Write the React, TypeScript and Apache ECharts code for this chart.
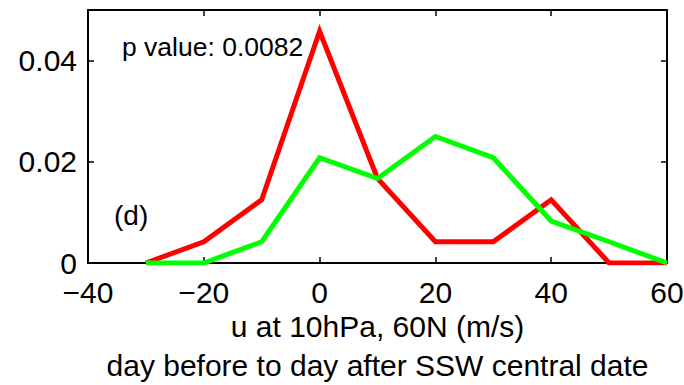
import React, { useEffect, useRef } from "react";
import * as echarts from "echarts";

const xValues = [-30, -20, -10, 0, 10, 20, 30, 40, 50, 60];
const redValues = [0, 0.0042, 0.0125, 0.0458, 0.0167, 0.0042, 0.0042, 0.0125, 0, 0];
const greenValues = [0, 0, 0.0042, 0.0208, 0.0167, 0.025, 0.0208, 0.0083, 0.0042, 0];
const xTitle = "u at 10hPa, 60N (m/s)\nday before to day after SSW central date";
const pValueText = "p value: 0.0082";
const panelLabel = "(d)";

const FONT = '"Liberation Sans", Arial, sans-serif';

export default function App() {
  const ref = useRef<HTMLDivElement>(null);
  useEffect(() => {
    if (!ref.current) return;
    const chart = echarts.init(ref.current, undefined, { renderer: "svg" });
    const pair = (ys: number[]) => xValues.map((x, i) => [x, ys[i]]);
    const axisLine = { show: true, onZero: false, lineStyle: { color: "#000", width: 2 } };
    const tick = { show: true, inside: true, length: 6, lineStyle: { color: "#000", width: 1.5 } };
    const fmtX = (v: number) => (v < 0 ? "\u2212" + Math.abs(v) : String(v));
    const fmtY = (v: number) => {
      const r = Math.round(v * 1000) / 1000;
      if (Math.abs(r - 0.05) < 1e-9) return "";
      return String(r);
    };
    chart.setOption({
      animation: false,
      backgroundColor: "#fff",
      grid: { left: 88, right: 17, top: 10, bottom: 122, containLabel: false, outerBoundsMode: "none" },
      xAxis: [
        {
          type: "value",
          min: -40,
          max: 60,
          interval: 20,
          position: "bottom",
          axisLine,
          axisTick: tick,
          axisLabel: { formatter: fmtX, fontSize: 30, lineHeight: 26, color: "#000", fontFamily: FONT, margin: 16.5 },
          splitLine: { show: false },
          name: xTitle,
          nameLocation: "middle",
          nameGap: 43.5,
          nameMoveOverlap: false,
          nameTextStyle: { fontSize: 30, color: "#000", fontFamily: FONT, lineHeight: 39 },
        },
        {
          type: "value",
          min: -40,
          max: 60,
          interval: 20,
          position: "top",
          axisLine,
          axisTick: tick,
          axisLabel: { show: false },
          splitLine: { show: false },
        },
      ],
      yAxis: [
        {
          type: "value",
          min: 0,
          max: 0.05,
          interval: 0.02,
          position: "left",
          axisLine,
          axisTick: tick,
          axisLabel: { formatter: fmtY, fontSize: 30, lineHeight: 26, color: "#000", fontFamily: FONT, margin: 11 },
          splitLine: { show: false },
        },
        {
          type: "value",
          min: 0,
          max: 0.05,
          interval: 0.02,
          position: "right",
          axisLine,
          axisTick: tick,
          axisLabel: { show: false },
          splitLine: { show: false },
        },
      ],
      series: [
        {
          type: "line",
          data: pair(redValues),
          symbol: "none",
          lineStyle: { color: "#ff0000", width: 5, join: "miter" },
          z: 3,
        },
        {
          type: "line",
          data: pair(greenValues),
          symbol: "none",
          lineStyle: { color: "#00ff00", width: 5, join: "miter" },
          z: 4,
        },
      ],
      graphic: [
        {
          type: "text",
          left: 122,
          top: 33,
          style: { text: pValueText, fontSize: 26.5, fill: "#000", fontFamily: FONT },
        },
        {
          type: "text",
          left: 114,
          top: 201,
          style: { text: panelLabel, fontSize: 28, fill: "#000", fontFamily: FONT },
        },
      ],
    });
    return () => chart.dispose();
  }, []);
  return (
    <div
      ref={ref}
      style={{ position: "fixed", left: 0, top: 0, width: 684, height: 385 }}
    />
  );
}
